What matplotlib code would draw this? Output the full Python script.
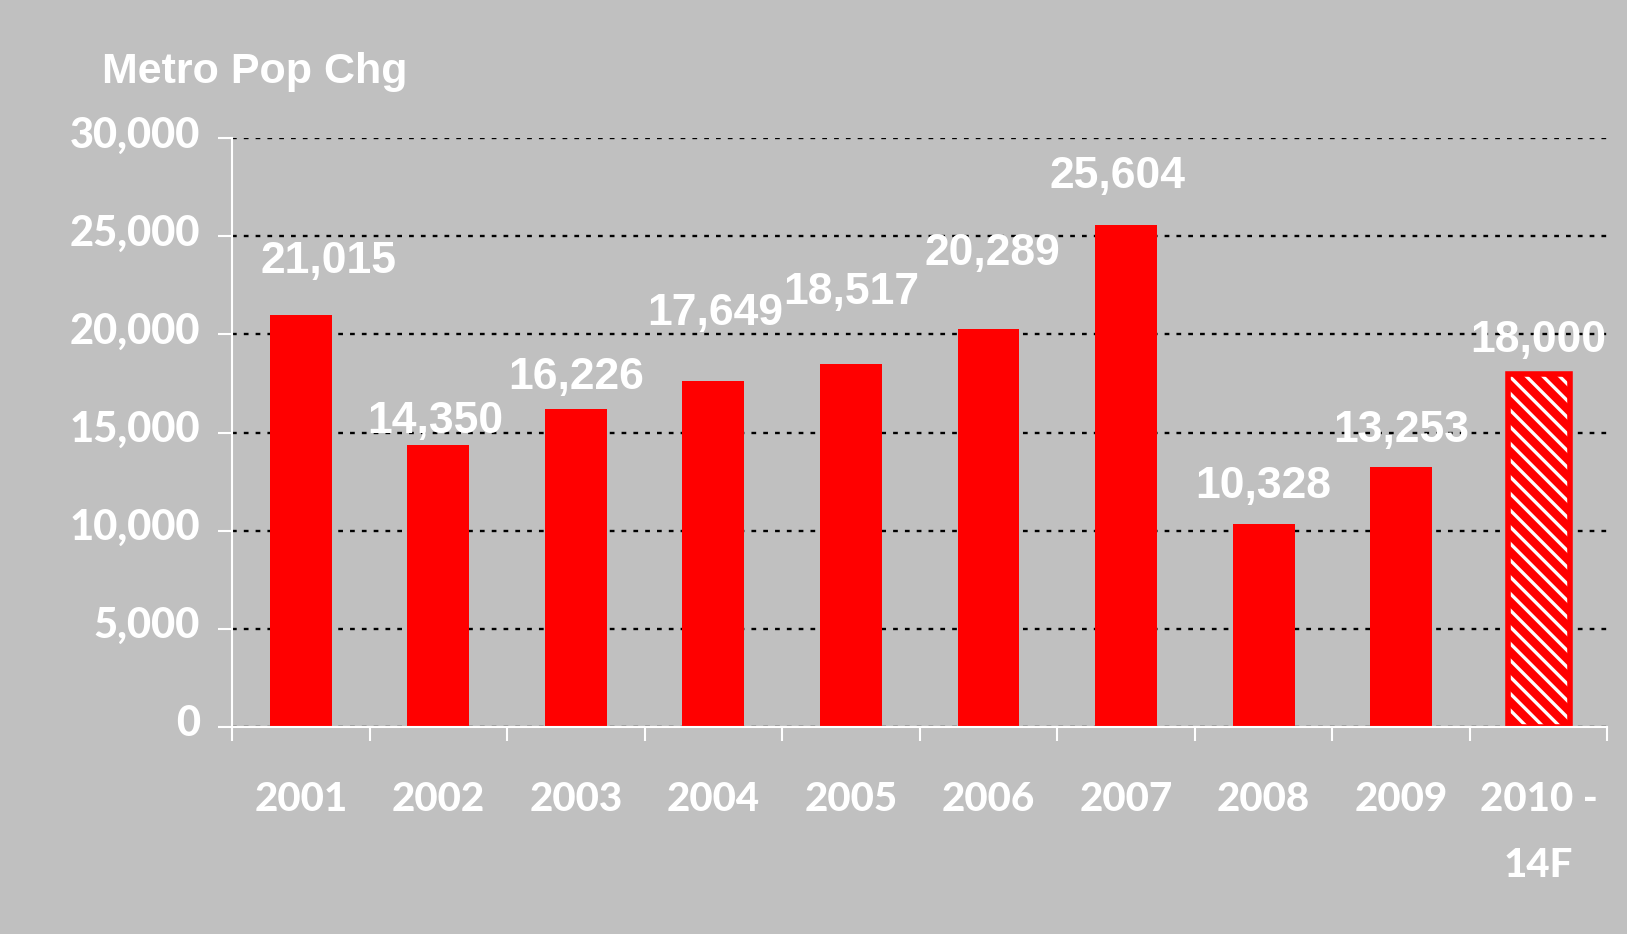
import numpy as np
import matplotlib.pyplot as plt
from matplotlib.transforms import ScaledTranslation

years = ['2001', '2002', '2003', '2004', '2005', '2006', '2007', '2008', '2009', '2010 -\n14F']
pop_change = [21015, 14350, 16226, 17649, 18517, 20289, 25604, 10328, 13253, 18000]
forecast = [False] * 9 + [True]
# where each value label sits relative to the top of its bar (points)
label_lift = [30, 9, 14, 40, 43, 46, 26, 19, 18, 16]
label_shift = [20, -2, 0, 1, 0, 3, -6, 0, 0, 0]

bg = '#c0c0c0'
red = '#ff0000'

fig = plt.figure(figsize=(16.27, 9.34), dpi=100, facecolor=bg)
ax = fig.add_axes([0.1426, 0.2216, 0.988 - 0.1426, 0.852 - 0.2216])
ax.set_facecolor(bg)

x = np.arange(len(years))
barWidth = 0.45

actual = [v if not f else 0 for v, f in zip(pop_change, forecast)]
fc = [v if f else 0 for v, f in zip(pop_change, forecast)]

ax.bar(x, actual, width=barWidth, color=red, zorder=3)
# forecast bar: white stripes on red, red outline
plt.rcParams['hatch.linewidth'] = 2.4
ax.bar(x, fc, width=barWidth, color=red, edgecolor='white', hatch='\\\\', linewidth=0, zorder=3)
ax.bar(x, fc, width=barWidth, fill=False, edgecolor=red, linewidth=4, zorder=4)

# value labels
for xi, v, lift, sh in zip(x, pop_change, label_lift, label_shift):
    ax.annotate(f'{v:,}', (xi, v), xytext=(sh, lift), textcoords='offset points',
                ha='center', va='baseline', color='white', fontsize=32,
                fontweight='bold', family='Liberation Sans')

ax.set_xlim(-0.5, len(years) - 0.5)
ax.set_ylim(0, 30000)
ax.set_yticks(np.arange(0, 30001, 5000))
ax.set_yticklabels([f'{t:,}' for t in range(0, 30001, 5000)])
ax.set_xticks(x)
ax.set_xticklabels(years, linespacing=1.95)
ax.set_xticks(np.arange(-0.5, len(years)), minor=True)

ax.grid(axis='y', color='black', linestyle=(0, (2, 3)), linewidth=1.7, zorder=1)
ax.set_axisbelow(True)

for s in ['top', 'right']:
    ax.spines[s].set_visible(False)
for s in ['left', 'bottom']:
    ax.spines[s].set_color('white')
    ax.spines[s].set_linewidth(1.5)
ax.spines['bottom'].set_zorder(5)

ax.tick_params(axis='y', colors='white', length=10, width=1.5, pad=13, labelsize=30)
ax.tick_params(axis='x', which='major', length=0, pad=39, labelsize=29, labelcolor='white')
ax.tick_params(axis='x', which='minor', colors='white', length=10, width=1.5)
for lab in ax.get_xticklabels() + ax.get_yticklabels():
    lab.set_family('Lato')
    lab.set_fontweight('black')
# y labels sit a little above their ticks in the original
up = ScaledTranslation(0, 4.5 / 72, fig.dpi_scale_trans)
for lab in ax.get_yticklabels():
    lab.set_transform(lab.get_transform() + up)

fig.text(102 / 1627, 1 - 83 / 934, 'Metro Pop Chg', color='white', fontsize=31,
         fontweight='bold', family='Liberation Sans', va='baseline')

plt.savefig('out.png', dpi=100, facecolor=bg)
